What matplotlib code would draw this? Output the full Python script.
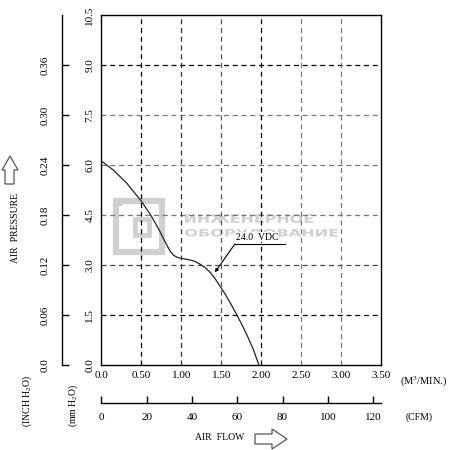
import numpy as np
import matplotlib
matplotlib.use("Agg")
import matplotlib.pyplot as plt
from matplotlib.patches import Polygon, Rectangle, PathPatch
from matplotlib.textpath import TextPath
from matplotlib.font_manager import FontProperties
from matplotlib.transforms import Affine2D, IdentityTransform

plt.rcParams['font.family'] = ['Liberation Serif', 'DejaVu Serif']
plt.rcParams['mathtext.fontset'] = 'custom'
plt.rcParams['mathtext.rm'] = 'Liberation Serif'
plt.rcParams['mathtext.it'] = 'Liberation Serif'

# air flow (m3/min) vs static pressure (mm H2O), 24 VDC curve
flow = [0.0, 0.15, 0.32, 0.505, 0.63, 0.73, 0.80, 0.86, 0.90, 0.94, 0.98,
        1.04, 1.11, 1.17, 1.23, 1.30, 1.36, 1.42, 1.48, 1.55, 1.62, 1.69,
        1.76, 1.83, 1.90, 1.97]
pressure = [6.12, 5.85, 5.45, 4.90, 4.45, 4.02, 3.68, 3.42, 3.30, 3.24, 3.21,
            3.18, 3.15, 3.11, 3.03, 2.92, 2.78, 2.60, 2.38, 2.12, 1.83, 1.52,
            1.20, 0.85, 0.47, 0.0]

flow_ticks = [0.0, 0.5, 1.0, 1.5, 2.0, 2.5, 3.0, 3.5]
flow_labels = ['0.0', '0.50', '1.00', '1.50', '2.00', '2.50', '3.00', '3.50']
mm_ticks = [0.0, 1.5, 3.0, 4.5, 6.0, 7.5, 9.0, 10.5]
mm_labels = ['0.0', '1.5', '3.0', '4.5', '6.0', '7.5', '9.0', '10.5']
inch_labels = ['0.0', '0.06', '0.12', '0.18', '0.24', '0.30', '0.36']
cfm_ticks = [0, 20, 40, 60, 80, 100, 120]
CFM_PER_M3MIN = 35.3147

W, H = 451, 450
fig = plt.figure(figsize=(W / 100, H / 100), dpi=100)

def fx(px):
    return px / W

def fy(py):
    return 1 - py / H

FS = 8      # numbers
FW = 7      # words
left, right, top, bottom = 101.3, 381.3, 15, 365

ax = fig.add_axes([fx(left), fy(bottom), (right - left) / W, (bottom - top) / H])
ax.set_xlim(0, 3.5)
ax.set_ylim(0, 10.5)
for s in ax.spines.values():
    s.set_linewidth(1.0)
ax.set_xticks(flow_ticks)
ax.set_xticklabels(flow_labels, fontsize=FS)
ax.set_yticks(mm_ticks)
ax.set_yticklabels(mm_labels, fontsize=FS, rotation=90, va='center')
ax.tick_params(axis='both', length=0)
ax.tick_params(axis='x', pad=4)
ax.tick_params(axis='y', pad=5)

# grid
hcol = {1.5: 'black', 3.0: '#444444', 4.5: '#777777', 6.0: '#777777',
        7.5: '#777777', 9.0: 'black'}
vcol = {0.5: 'black', 1.0: '#333333', 1.5: '#555555', 2.0: 'black',
        2.5: '#777777', 3.0: '#777777'}
for v, c in hcol.items():
    ax.axhline(v, color=c, lw=0.9, ls=(0, (4, 3)), zorder=1)
for v, c in vcol.items():
    ax.axvline(v, color=c, lw=0.9, ls=(0, (4, 3)), zorder=1)

# watermark (pixel placement)
WM = '#d0d0d0'

def px_rect(x0, y0, x1, y1, lw):
    r = Rectangle((x0, H - y1), x1 - x0, y1 - y0, fill=False, ec=WM, lw=lw,
                  transform=IdentityTransform(), zorder=0.5)
    ax.add_patch(r)

px_rect(116, 201, 162, 252, 4.5)
px_rect(135, 219, 149, 235, 3.5)
ax.add_patch(Rectangle((113, H - 206), 10, 8, fc=WM, ec='none',
                       transform=IdentityTransform(), zorder=0.5))

def px_text(s, x0, y0, x1, y1):
    tp = TextPath((0, 0), s, size=10,
                  prop=FontProperties(family='DejaVu Sans', weight='bold'))
    bb = tp.get_extents()
    sx = (x1 - x0) / bb.width
    sy = (y1 - y0) / bb.height
    tr = Affine2D().translate(-bb.x0, -bb.y0).scale(sx, sy).translate(x0, H - y1)
    ax.add_patch(PathPatch(tr.transform_path(tp), fc=WM, ec='none',
                           transform=IdentityTransform(), zorder=0.5))

px_text('ИНЖЕНЕРНОЕ', 185, 214, 313, 223)
px_text('ОБОРУДОВАНИЕ', 185, 229, 338, 238)

ax.plot(flow, pressure, color='#222222', lw=0.9, zorder=3)

# curve label
ax.text(1.68, 3.70, '24.0  VDC', fontsize=FW, ha='left', va='bottom', zorder=4,
        bbox=dict(fc='white', ec='none', pad=0.5))
ax.plot([1.67, 2.30], [3.63, 3.63], color='black', lw=0.8, zorder=5)
ax.annotate('', xy=(1.42, 2.78), xytext=(1.67, 3.63),
            arrowprops=dict(arrowstyle='-|>', color='black', lw=0.8,
                            mutation_scale=5, shrinkA=0, shrinkB=0), zorder=5)

# inch H2O axis
ax_in = fig.add_axes([fx(62), fy(bottom), 0.001, (bottom - top) / H])
ax_in.set_ylim(0, 10.5)
ax_in.patch.set_visible(False)
for k in ['right', 'top', 'bottom']:
    ax_in.spines[k].set_visible(False)
ax_in.spines['left'].set_linewidth(1.0)
ax_in.set_xticks([])
ax_in.set_yticks(mm_ticks[:len(inch_labels)])
ax_in.set_yticklabels(inch_labels, fontsize=FS, rotation=90, va='center')
ax_in.tick_params(axis='y', direction='in', length=5, width=1.0, pad=9)

# CFM axis
ax_cfm = fig.add_axes([fx(left), fy(403), (right - left) / W, 0.001])
ax_cfm.set_xlim(0, 3.5 * CFM_PER_M3MIN)
ax_cfm.patch.set_visible(False)
for k in ['left', 'right', 'top']:
    ax_cfm.spines[k].set_visible(False)
ax_cfm.spines['bottom'].set_linewidth(1.0)
ax_cfm.set_yticks([])
ax_cfm.set_xticks(cfm_ticks)
ax_cfm.set_xticklabels([str(c) for c in cfm_ticks], fontsize=FS)
ax_cfm.tick_params(axis='x', direction='in', length=5, width=1.0, pad=7)

# unit labels
fig.text(fx(400), fy(381), '(M$^3$/MIN.)', fontsize=7.5, ha='left', va='center')
fig.text(fx(406), fy(417), '(CFM)', fontsize=FW, ha='left', va='center')
fig.text(fx(27), fy(401), '(INCH H$_2$O)', fontsize=FW, rotation=90, ha='center', va='center')
fig.text(fx(73), fy(405), '(mm H$_2$O)', fontsize=FW, rotation=90, ha='center', va='center')
fig.text(fx(16), fy(228), 'AIR  PRESSURE', fontsize=FW, rotation=90, ha='center', va='center')
fig.text(fx(220), fy(438), 'AIR  FLOW', fontsize=FW, ha='center', va='center')

# outline arrows
def outline_arrow(pts):
    poly = Polygon([(fx(x), fy(y)) for x, y in pts], closed=True, fill=False,
                   ec='#555555', lw=0.9, transform=fig.transFigure)
    fig.add_artist(poly)

outline_arrow([(255, 434), (272, 434), (272, 429), (287, 439), (272, 449),
               (272, 444), (255, 444)])
outline_arrow([(5, 184), (5, 170), (2, 170), (10, 156), (18, 170), (14, 170),
               (14, 184)])

fig.savefig('out.png', dpi=100)
